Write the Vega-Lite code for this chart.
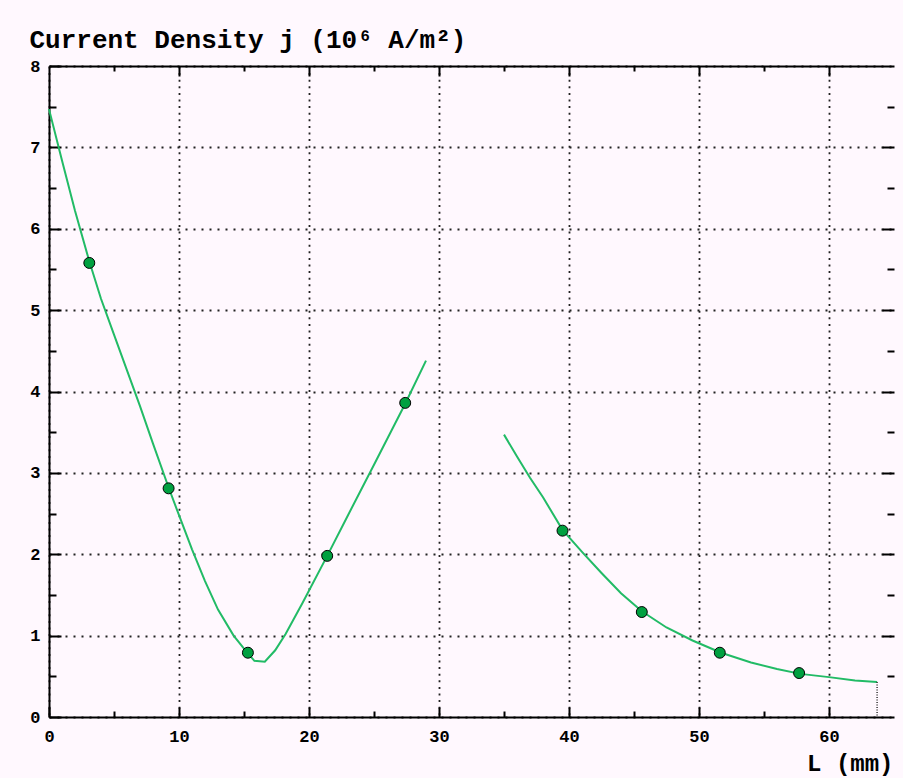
{
  "$schema": "https://vega.github.io/schema/vega-lite/v6.json",
  "width": 845,
  "height": 651,
  "autosize": {"type": "none"},
  "padding": {"left": 49, "top": 66, "right": 9, "bottom": 61},
  "background": "#FFF8FE",
  "config": {
    "view": {"stroke": null},
    "axis": {
      "labelFont": "Liberation Mono",
      "labelFontWeight": "bold",
      "labelFontSize": 17,
      "labelColor": "#000000",
      "domainColor": "#000000",
      "domainWidth": 2,
      "tickColor": "#000000",
      "tickWidth": 2,
      "gridColor": "#222222",
      "gridWidth": 1.8,
      "gridOpacity": 1,
      "titleColor": "#000000",
      "titleFont": "Liberation Mono",
      "titleFontWeight": "bold",
      "labelOverlap": false,
      "labelFlush": false
    }
  },
  "datasets": {
    "curveA": [
      {"L": 0, "j": 7.47}, {"L": 1, "j": 6.84}, {"L": 2, "j": 6.22}, {"L": 3.1, "j": 5.6},
      {"L": 4, "j": 5.14}, {"L": 5, "j": 4.7}, {"L": 6, "j": 4.26}, {"L": 7, "j": 3.82},
      {"L": 8, "j": 3.36}, {"L": 9.2, "j": 2.82}, {"L": 10, "j": 2.48}, {"L": 11, "j": 2.06},
      {"L": 12, "j": 1.67}, {"L": 13, "j": 1.32}, {"L": 14.2, "j": 1.0}, {"L": 15.2, "j": 0.8},
      {"L": 15.8, "j": 0.69}, {"L": 16.6, "j": 0.68}, {"L": 17.4, "j": 0.82}, {"L": 18.2, "j": 1.02},
      {"L": 19.5, "j": 1.4}, {"L": 21.4, "j": 1.98}, {"L": 23, "j": 2.48}, {"L": 25, "j": 3.1},
      {"L": 27.4, "j": 3.85}, {"L": 29, "j": 4.38}
    ],
    "curveB": [
      {"L": 35, "j": 3.47}, {"L": 36, "j": 3.2}, {"L": 37, "j": 2.94}, {"L": 38, "j": 2.7},
      {"L": 39.5, "j": 2.3}, {"L": 41, "j": 2.03}, {"L": 42.5, "j": 1.77}, {"L": 44, "j": 1.52},
      {"L": 45.6, "j": 1.3}, {"L": 47.5, "j": 1.1}, {"L": 49.5, "j": 0.94}, {"L": 51.7, "j": 0.79},
      {"L": 54, "j": 0.67}, {"L": 56, "j": 0.59}, {"L": 57.8, "j": 0.53}, {"L": 60, "j": 0.49},
      {"L": 62, "j": 0.45}, {"L": 63.7, "j": 0.43}
    ],
    "endRule": [
      {"L": 63.7, "j": 0.43, "j0": 0}
    ],
    "measured": [
      {"L": 3.1, "j": 5.58}, {"L": 9.2, "j": 2.81}, {"L": 15.3, "j": 0.79},
      {"L": 21.4, "j": 1.98}, {"L": 27.4, "j": 3.86}, {"L": 39.5, "j": 2.29},
      {"L": 45.6, "j": 1.29}, {"L": 51.6, "j": 0.79}, {"L": 57.7, "j": 0.54}
    ]
  },
  "resolve": {"axis": {"x": "independent", "y": "independent"}},
  "layer": [
    {
      "data": {"name": "curveA"},
      "mark": {"type": "line", "color": "#22BB66", "strokeWidth": 2},
      "encoding": {
        "x": {
          "field": "L", "type": "quantitative",
          "scale": {"domain": [0, 65], "nice": false, "zero": false},
          "axis": {
            "orient": "bottom", "values": [0, 10, 20, 30, 40, 50, 60],
            "tickSize": -10, "labelPadding": 21, "grid": true, "gridDash": [2, 4.6],
            "title": "L (mm)", "titleX": 844, "titleY": 53, "titleAlign": "right",
            "titleBaseline": "alphabetic", "titleFontSize": 24
          }
        },
        "y": {
          "field": "j", "type": "quantitative",
          "scale": {"domain": [0, 8], "nice": false},
          "axis": {
            "orient": "left", "values": [0, 1, 2, 3, 4, 5, 6, 7, 8],
            "tickSize": -12, "labelPadding": 21, "grid": true, "gridDash": [2, 6],
            "labelBaseline": "middle",
            "title": "Current Density j (10⁶ A/m²)", "titleAngle": 0, "titleX": -20, "titleY": -19,
            "titleAlign": "left", "titleBaseline": "alphabetic", "titleFontSize": 26
          }
        }
      }
    },
    {
      "data": {"name": "curveB"},
      "mark": {"type": "line", "color": "#22BB66", "strokeWidth": 2},
      "encoding": {
        "x": {
          "field": "L", "type": "quantitative",
          "scale": {"domain": [0, 65], "nice": false, "zero": false},
          "axis": {
            "orient": "bottom", "values": [5, 15, 25, 35, 45, 55],
            "tickSize": -6, "labels": false, "domain": false, "grid": false, "title": null
          }
        },
        "y": {
          "field": "j", "type": "quantitative",
          "scale": {"domain": [0, 8], "nice": false},
          "axis": {
            "orient": "left", "values": [0.5, 1.5, 2.5, 3.5, 4.5, 5.5, 6.5, 7.5],
            "tickSize": -7, "labels": false, "domain": false, "grid": false, "title": null
          }
        }
      }
    },
    {
      "data": {"name": "endRule"},
      "mark": {"type": "rule", "color": "#333333", "strokeWidth": 1.5, "strokeDash": [1, 1.5]},
      "encoding": {
        "x": {
          "field": "L", "type": "quantitative",
          "scale": {"domain": [0, 65], "nice": false, "zero": false},
          "axis": {
            "orient": "top", "values": [10, 20, 30, 40, 50, 60],
            "tickSize": -10, "labels": false, "domain": true, "grid": false, "title": null
          }
        },
        "y": {
          "field": "j", "type": "quantitative",
          "scale": {"domain": [0, 8], "nice": false},
          "axis": {
            "orient": "right", "values": [1, 2, 3, 4, 5, 6, 7],
            "tickSize": -12, "labels": false, "domain": false, "grid": false, "title": null
          }
        },
        "y2": {"field": "j0"}
      }
    },
    {
      "data": {"name": "measured"},
      "mark": {"type": "circle", "color": "#00A040", "stroke": "#000000", "strokeWidth": 1, "size": 120, "opacity": 1},
      "encoding": {
        "x": {
          "field": "L", "type": "quantitative",
          "scale": {"domain": [0, 65], "nice": false, "zero": false},
          "axis": {
            "orient": "top", "values": [5, 15, 25, 35, 45, 55],
            "tickSize": -5, "labels": false, "domain": false, "grid": false, "title": null
          }
        },
        "y": {
          "field": "j", "type": "quantitative",
          "scale": {"domain": [0, 8], "nice": false},
          "axis": {
            "orient": "right", "values": [0.5, 1.5, 2.5, 3.5, 4.5, 5.5, 6.5, 7.5],
            "tickSize": -7, "labels": false, "domain": false, "grid": false, "title": null
          }
        }
      }
    }
  ]
}
